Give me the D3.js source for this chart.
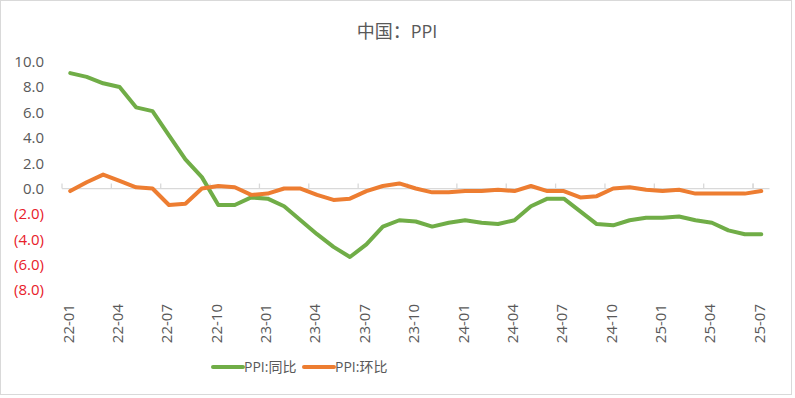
<!DOCTYPE html>
<html>
<head>
<meta charset="utf-8">
<script src="https://cdn.jsdelivr.net/npm/d3@7"></script>
<style>
  body { margin: 0; background: #fff; }
  svg { display: block; font-family: "Open Sans", "Noto Sans CJK SC", sans-serif; }
</style>
</head>
<body>
<div id="main"></div>
<script>
// Datos del gráfico
var meses = [
  "22-01","22-02","22-03","22-04","22-05","22-06","22-07","22-08","22-09","22-10","22-11","22-12",
  "23-01","23-02","23-03","23-04","23-05","23-06","23-07","23-08","23-09","23-10","23-11","23-12",
  "24-01","24-02","24-03","24-04","24-05","24-06","24-07","24-08","24-09","24-10","24-11","24-12",
  "25-01","25-02","25-03","25-04","25-05","25-06","25-07"
];
var ppiYoY = [
  9.1, 8.8, 8.3, 8.0, 6.4, 6.1, 4.2, 2.3, 0.9, -1.3, -1.3, -0.7,
  -0.8, -1.4, -2.5, -3.6, -4.6, -5.4, -4.4, -3.0, -2.5, -2.6, -3.0, -2.7,
  -2.5, -2.7, -2.8, -2.5, -1.4, -0.8, -0.8, -1.8, -2.8, -2.9, -2.5, -2.3,
  -2.3, -2.2, -2.5, -2.7, -3.3, -3.6, -3.6
];
var ppiMoM = [
  -0.2, 0.5, 1.1, 0.6, 0.1, 0.0, -1.3, -1.2, 0.0, 0.2, 0.1, -0.5,
  -0.4, 0.0, 0.0, -0.5, -0.9, -0.8, -0.2, 0.2, 0.4, 0.0, -0.3, -0.3,
  -0.2, -0.2, -0.1, -0.2, 0.2, -0.2, -0.2, -0.7, -0.6, 0.0, 0.1, -0.1,
  -0.2, -0.1, -0.4, -0.4, -0.4, -0.4, -0.2
];
var yTicks = [10, 8, 6, 4, 2, 0, -2, -4, -6, -8];
var series = [
  { name: "PPI:同比", values: ppiYoY, color: "#70AD47" },
  { name: "PPI:环比", values: ppiMoM, color: "#ED7D31" }
];

var width = 795, height = 398;
var svg = d3.select("#main").append("svg").attr("width", width).attr("height", height);

// Borde del gráfico
svg.append("rect")
  .attr("x", 0.5).attr("y", 0.5)
  .attr("width", 791).attr("height", 394)
  .attr("fill", "#fff")
  .attr("stroke", "#d9d9d9");

// Título
svg.append("text")
  .attr("x", 397).attr("y", 38)
  .attr("text-anchor", "middle")
  .attr("font-size", 18)
  .attr("fill", "#595959")
  .text("中国：PPI");

// Escalas
var x = d3.scaleBand().domain(meses).range([62, 769.5]);
var y = d3.scaleLinear().domain([-8, 10]).range([290, 61.7]);

// Eje Y (solo etiquetas)
var fmt = d3.format(".1f");
svg.append("g").selectAll("text").data(yTicks).join("text")
  .attr("x", 44)
  .attr("y", function(d) { return y(d); })
  .attr("dy", "0.36em")
  .attr("text-anchor", "end")
  .attr("font-size", 15)
  .attr("fill", function(d) { return d < 0 ? "#E8202A" : "#595959"; })
  .text(function(d) { return d < 0 ? "(" + fmt(-d) + ")" : fmt(d); });

// Eje X en el cero, marcas cada 3 meses
var tickMeses = meses.filter(function(d, i) { return i % 3 === 0; });
var ejeX = svg.append("g").attr("transform", "translate(0," + y(0) + ")");
ejeX.append("line")
  .attr("x1", x.range()[0]).attr("x2", x.range()[1])
  .attr("stroke", "#d9d9d9").attr("stroke-width", 1.3);
ejeX.selectAll("line.tick").data(tickMeses.concat(["fin"])).join("line")
  .attr("class", "tick")
  .attr("x1", function(d) { return d === "fin" ? x("25-07") : x(d); })
  .attr("x2", function(d) { return d === "fin" ? x("25-07") : x(d); })
  .attr("y1", 0).attr("y2", -5)
  .attr("stroke", "#d9d9d9").attr("stroke-width", 1.3);

// Etiquetas de la categoría, rotadas
svg.append("g").selectAll("text").data(tickMeses).join("text")
  .attr("transform", function(d) {
    return "translate(" + (x(d) + x.bandwidth() / 2 - 2) + ",304) rotate(-90)";
  })
  .attr("text-anchor", "end")
  .attr("dy", "0.36em")
  .attr("font-size", 15)
  .attr("fill", "#595959")
  .text(function(d) { return d; });

// Líneas
var linea = d3.line()
  .x(function(d, i) { return x(meses[i]) + x.bandwidth() / 2; })
  .y(function(d) { return y(d); });
series.forEach(function(s) {
  svg.append("path")
    .datum(s.values)
    .attr("d", linea)
    .attr("fill", "none")
    .attr("stroke", s.color)
    .attr("stroke-width", 4)
    .attr("stroke-linejoin", "round")
    .attr("stroke-linecap", "round");
});

// Leyenda
var leyendaX = [213, 304];
var leyenda = svg.append("g").selectAll("g").data(series).join("g")
  .attr("transform", function(d, i) { return "translate(" + leyendaX[i] + ",367)"; });
leyenda.append("line")
  .attr("x1", 0).attr("x2", 30)
  .attr("stroke", function(d) { return d.color; })
  .attr("stroke-width", 4)
  .attr("stroke-linecap", "round");
leyenda.append("text")
  .attr("x", 31).attr("dy", "0.36em")
  .attr("font-size", 14)
  .attr("fill", "#595959")
  .text(function(d) { return d.name; });
</script>
</body>
</html>
